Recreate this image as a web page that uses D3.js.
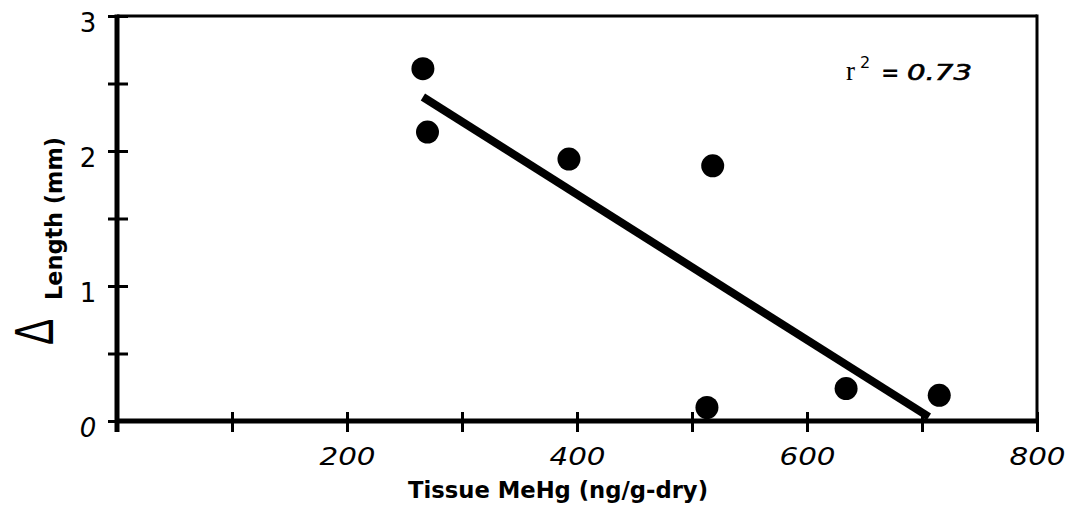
<!DOCTYPE html>
<html>
<head>
<meta charset="utf-8">
<script src="https://cdn.jsdelivr.net/npm/d3@7"></script>
<style>
  html, body { margin: 0; padding: 0; background: #fff; }
  svg { display: block; }
  text { font-family: "DejaVu Sans", sans-serif; fill: #000; }
</style>
</head>
<body>
<svg id="chart" width="1076" height="511"></svg>
<script>
// ---- data ----
const tissueMeHg = [266, 270, 393, 518, 513, 634, 715];
const deltaLength = [2.61, 2.14, 1.94, 1.89, 0.10, 0.24, 0.19];
const fitX = [266, 706];
const fitY = [2.40, 0.03];
const xTickValues = [0, 100, 200, 300, 400, 500, 600, 700, 800];
const xTickLabels = ["", "", "200", "", "400", "", "600", "", "800"];
const yTickValues = [0, 0.5, 1, 1.5, 2, 2.5, 3];
const yTickLabels = ["0", "", "1", "", "2", "", "3"];
const rSquared = "0.73";

// ---- layout ----
const svg = d3.select("#chart");
const mLeft = 117, mRight = 1037, mTop = 16, mBottom = 421;

const x = d3.scaleLinear().domain([0, 800]).range([mLeft, mRight]);
const y = d3.scaleLinear().domain([0, 3]).range([mBottom, mTop]);

// frame (top & right thin)
svg.append("line").attr("x1", mLeft).attr("x2", mRight).attr("y1", mTop).attr("y2", mTop)
  .attr("stroke", "#000").attr("stroke-width", 3);
svg.append("line").attr("x1", mRight).attr("x2", mRight).attr("y1", mTop - 1.5).attr("y2", mBottom)
  .attr("stroke", "#000").attr("stroke-width", 3);

// bottom axis
const xAxis = d3.axisBottom(x).tickValues(xTickValues).tickSize(0).tickFormat("");
const gx = svg.append("g").attr("transform", `translate(0,${mBottom})`).call(xAxis);
gx.select(".domain").attr("stroke", "#000").attr("stroke-width", 5).attr("d", `M${mLeft - 2},0H${mRight + 1.5}`);
gx.selectAll(".tick line").attr("y1", -9).attr("y2", 11).attr("stroke", "#000").attr("stroke-width", 3);
gx.selectAll(".tick").filter((d, i) => xTickLabels[i] !== "").append("text")
  .attr("y", 44).attr("text-anchor", "middle")
  .attr("textLength", 56).attr("lengthAdjust", "spacingAndGlyphs")
  .style("font-size", "25px").style("font-style", "italic")
  .text((d) => xTickLabels[xTickValues.indexOf(d)]);

// left axis
const yAxis = d3.axisLeft(y).tickValues(yTickValues).tickSize(0).tickFormat("");
const gy = svg.append("g").attr("transform", `translate(${mLeft},0)`).call(yAxis);
gy.select(".domain").attr("stroke", "#000").attr("stroke-width", 5).attr("d", `M0,${mBottom + 11}V${mTop - 1.5}`);
gy.selectAll(".tick line").attr("x1", -9).attr("x2", 11).attr("stroke", "#000").attr("stroke-width", 3);
gy.selectAll(".tick").append("text")
  .attr("x", -29).attr("y", 15).attr("text-anchor", "middle")
  .style("font-size", "26px")
  .style("font-style", (d) => d === 0 ? "italic" : "normal")
  .text((d, i) => yTickLabels[i]);

// regression line
svg.append("line")
  .attr("x1", x(fitX[0])).attr("y1", y(fitY[0]))
  .attr("x2", x(fitX[1])).attr("y2", y(fitY[1]))
  .attr("stroke", "#000").attr("stroke-width", 8).attr("stroke-linecap", "butt");

// points
svg.append("g").selectAll("circle")
  .data(tissueMeHg.map((v, i) => [v, deltaLength[i]]))
  .join("circle")
  .attr("cx", d => x(d[0])).attr("cy", d => y(d[1]))
  .attr("r", 11.5).attr("fill", "#000");

// r^2 annotation
const ann = svg.append("g");
ann.append("text").attr("x", 846).attr("y", 80)
  .style("font-family", "'Liberation Serif', serif").style("font-size", "27px").text("r");
ann.append("text").attr("x", 860).attr("y", 68)
  .style("font-size", "16px").text("2");
ann.append("text").attr("x", 881).attr("y", 80)
  .style("font-size", "22px").style("font-weight", "bold").text("=");
ann.append("text").attr("x", 907).attr("y", 80)
  .attr("textLength", 65).attr("lengthAdjust", "spacingAndGlyphs")
  .style("font-size", "21px").style("font-style", "italic")
  .style("stroke", "#000").style("stroke-width", 0.6)
  .text(rSquared);

// x axis title
svg.append("text").attr("x", 558).attr("y", 498).attr("text-anchor", "middle")
  .attr("textLength", 300).attr("lengthAdjust", "spacingAndGlyphs")
  .style("font-size", "23px").style("font-weight", "bold")
  .text("Tissue MeHg (ng/g-dry)");

// y axis title
const yt = svg.append("g").attr("transform", "rotate(-90)");
yt.append("text").attr("transform", "translate(-345,53) scale(0.7,1)")
  .style("font-size", "56px").style("font-family", "'Liberation Sans', sans-serif").text("Δ");
yt.append("text").attr("x", -300).attr("y", 62)
  .attr("textLength", 163).attr("lengthAdjust", "spacingAndGlyphs")
  .style("font-size", "23px").style("font-weight", "bold").text("Length (mm)");
</script>
</body>
</html>
